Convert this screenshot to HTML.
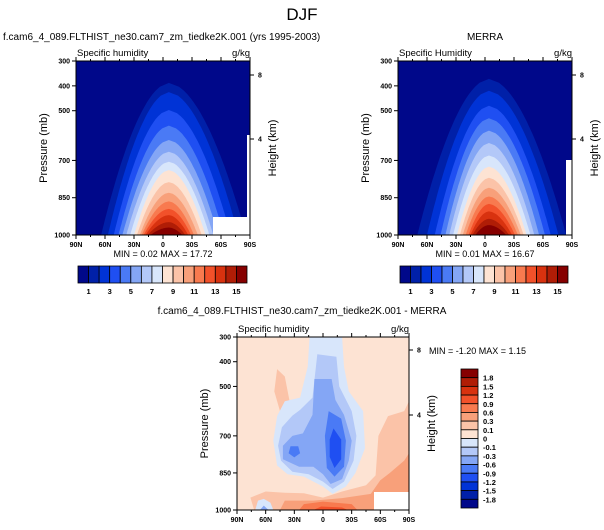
<!DOCTYPE html>
<html><head><meta charset="utf-8">
<style>
body{margin:0;background:#fff}
svg{display:block;font-family:"Liberation Sans",sans-serif}
</style></head>
<body>
<svg id="c" width="604" height="530" viewBox="0 0 604 530">
<text x="302" y="20" font-size="17" text-anchor="middle">DJF</text>
</svg>
<script>
// ---- data ----
const colors=["#00088a","#0020a8","#0033d6","#1f4ff2","#4a7af5","#84a6f5","#b3c8f8","#d8e6fb","#fde3d3","#fbc3a8","#f8a07a","#f87a4f","#f2512a","#d8320f","#b01d06","#860000"];
const qLabels=["1","3","5","7","9","11","13","15"];
const diffLabels=["1.8","1.5","1.2","0.9","0.6","0.3","0.1","0","-0.1","-0.3","-0.6","-0.9","-1.2","-1.5","-1.8"];
const pTicks=[300,400,500,700,850,1000];
const latTicks=[90,60,30,0,-30,-60,-90];
const latLabels=["90N","60N","30N","0","30S","60S","90S"];
// model contour levels 1..15: top pressure, lat at 1000 mb on N / S side
const modelTop=[388,425,497,560,618,665,705,739,787,830,865,895,920,948,970];
const modelN=[64,57,51,46,42,38,34,30,27,24,22,20,18,16,13];
const modelS=[-86,-78,-70,-63,-57,-52,-48,-44,-40,-36,-32,-29,-26,-23,-20];
const merraTop=[372,420,480,530,580,630,680,725,770,810,845,875,905,935,960];
const merraN=[70,60,52,46,41,37,33,29,26,23,20,17,15,13,10];
const merraS=[-84,-76,-68,-62,-56,-51,-47,-43,-40,-37,-34,-31,-28,-25,-22];
// difference contours: [lat,p] vertices
const diffOrange1=[[48,430],[40,460],[35,560],[45,600],[51,520]];
const diffOrange2=[[72,1000],[76,950],[60,925],[40,930],[20,932],[0,950],[-20,925],[-45,900],[-55,860],[-58,700],[-68,620],[-85,600],[-90,560],[-90,1000]];
const diffOrange3=[[45,1000],[40,962],[10,962],[-20,952],[-50,935],[-60,880],[-70,850],[-85,800],[-90,770],[-90,1000]];
const diffOrange4=[[25,1000],[20,976],[0,966],[-30,976],[-36,1000]];
const diffOrange5=[[10,1000],[2,986],[-20,990],[-26,1000]];
const diffBlue1=[[14,300],[-20,300],[-22,420],[-27,520],[-42,600],[-44,750],[-34,850],[-24,905],[-10,935],[0,905],[10,885],[20,865],[37,855],[48,820],[52,720],[48,620],[40,560],[24,545],[16,420]];
const diffBlue2=[[6,370],[-14,380],[-17,500],[-30,600],[-35,700],[-32,800],[-22,885],[-10,915],[0,885],[15,855],[32,845],[44,800],[47,740],[43,665],[32,618],[24,595],[11,545]];
const diffBlue3=[[9,470],[-9,470],[-13,555],[-22,615],[-30,720],[-27,800],[-20,875],[-8,895],[0,855],[10,825],[25,825],[42,795],[42,740],[32,700],[21,690],[11,615]];
const diffBlue4=[[-6,600],[-19,630],[-24,720],[-22,825],[-12,865],[-4,830],[-2,700]];
const diffBlue4b=[[34,742],[26,742],[24,770],[30,787],[36,770]];
const diffBlue5=[[-11,670],[-19,715],[-19,795],[-12,830],[-7,785],[-7,715]];
const diffBlueSW1=[[71,1000],[68,962],[62,955],[55,970],[52,1000]];
const diffBlueSW2=[[66,1000],[62,982],[57,1000]];

const NS="http://www.w3.org/2000/svg";
const svg=document.getElementById('c');
function el(tag,attrs,parent){const e=document.createElementNS(NS,tag);for(const k in attrs)e.setAttribute(k,attrs[k]);(parent||svg).appendChild(e);return e;}
function txt(x,y,s,size,anchor,parent,extra){const t=el('text',Object.assign({x:x,y:y,'font-size':size,'text-anchor':anchor||'start'},extra||{}),parent);t.textContent=s;return t;}

function panel(x0,y0,w,h,name){
  const g=el('g',{});
  
  
  const X=lat=>x0+(90-lat)/180*w;
  const Y=p=>y0+(p-300)/700*h;
  return {g,X,Y,x0,y0,w,h};
}
function dome(P,top,n,s,color,c){
  let pts=[];const N=40;const e=0.55;
  for(let i=0;i<=N;i++){const p=1000-(1000-top)*i/N;const t=(p-top)/(1000-top);const f=Math.pow(t,e);pts.push([c+(n-c)*f,p]);}
  for(let i=N;i>=0;i--){const p=1000-(1000-top)*i/N;const t=(p-top)/(1000-top);const f=Math.pow(t,e);pts.push([c+(s-c)*f,p]);}
  return poly(P,pts,color);
}
function poly(P,pts,color){
  const d=pts.map((q,i)=>(i?'L':'M')+P.X(q[0]).toFixed(1)+','+P.Y(q[1]).toFixed(1)).join('')+'Z';
  const e=el('path',{d:d,fill:color,'stroke-linejoin':'round'},P.g);
  
  
  return e;
}
function axes(P,heightTicks){
  const g=P.g;
  const f=el('rect',{x:P.x0,y:P.y0,width:P.w,height:P.h,fill:'none',stroke:'#000','stroke-width':1},g);
  
  
  pTicks.forEach(p=>{
    el('line',{x1:P.x0-4,x2:P.x0,y1:P.Y(p),y2:P.Y(p),stroke:'#000'},g);
    const t=txt(P.x0-6,P.Y(p)+2.5,String(p),7,'end',g,{'font-weight':'bold'});
    
    
  });
  for(let l=90;l>=-90;l-=15){el('line',{x1:P.X(l),x2:P.X(l),y1:P.y0+P.h,y2:P.y0+P.h+(l%30===0?4:2),stroke:'#000'},g);el('line',{x1:P.X(l),x2:P.X(l),y1:P.y0,y2:P.y0-(l%30===0?4:2),stroke:'#000'},g);}
  latTicks.forEach((l,i)=>{
    const t=txt(P.X(l),P.y0+P.h+12,latLabels[i],7,'middle',g,{'font-weight':'bold'});
    
    
  });
  heightTicks.forEach(hk=>{
    el('line',{x1:P.x0+P.w,x2:P.x0+P.w+4,y1:hk[1],y2:hk[1],stroke:'#000'},g);
    const t=txt(P.x0+P.w+8,hk[1]+2.5,hk[0],7,'start',g,{'font-weight':'bold'});
    
    
  });
  const yt=txt(0,0,'Pressure (mb)',11,'middle',g,{transform:`translate(${P.x0-29},${P.y0+P.h/2}) rotate(-90)`});
  
  
  const ht=txt(0,0,'Height (km)',11,'middle',g,{transform:`translate(${P.x0+P.w+26},${P.y0+P.h/2}) rotate(-90)`});
  
  
  const s=txt(P.x0+1,P.y0-5,'Specific humidity',9.5,'start',g);
  
  
  const u=txt(P.x0+P.w,P.y0-5,'g/kg',9.5,'end',g);
  
  
  return s;
}
function hbar(x,y,w,h){
  const g=el('g',{});
  
  
  const bw=w/colors.length;
  colors.forEach((c,i)=>{const r=el('rect',{x:x+i*bw,y:y,width:bw,height:h,fill:c,stroke:'#000','stroke-width':0.8},g);});
  qLabels.forEach((s,i)=>{const t=txt(x+(2*i+1)*bw,y+h+11,s,7.5,'middle',g,{'font-weight':'bold'});});
}
function qpanel(x0,tops,ns,ss,cen,name){
  const P=panel(x0,61,174,174,'panel-'+name);
  el('rect',{x:P.x0,y:P.y0,width:P.w,height:P.h,fill:colors[0]},P.g);
  tops.forEach((t,i)=>dome(P,t,ns[i],ss[i],colors[i+1],cen));
  return P;
}
// top-left
const A=qpanel(76,modelTop,modelN,modelS,-6,'model');
el('rect',{x:213,y:217,width:38,height:18,fill:'#fff'},A.g);
el('rect',{x:247,y:135,width:4,height:100,fill:'#fff'},A.g);
axes(A,[['8',75],['4',139]]);
const t1=txt(3,40,'f.cam6_4_089.FLTHIST_ne30.cam7_zm_tiedke2K.001 (yrs 1995-2003)',10,'start');

const m1=txt(163,257,'MIN =  0.02  MAX =  17.72',9,'middle');

hbar(78,266,169,17);
// top-right
const B=qpanel(398,merraTop,merraN,merraS,-4,'merra');
el('rect',{x:566,y:160,width:6,height:75,fill:'#fff'},B.g);
const sB=axes(B,[['8',75],['4',139]]);sB.textContent='Specific Humidity';
const t2=txt(485,40,'MERRA',10,'middle');

const m2=txt(485,257,'MIN =  0.01  MAX =  16.67',9,'middle');

hbar(400,266,168,17);
// bottom diff
const C=panel(237,337,172,173,'panel-difference');
el('rect',{x:C.x0,y:C.y0,width:C.w,height:C.h,fill:colors[8]},C.g);
poly(C,diffOrange1,colors[9]);poly(C,diffOrange2,colors[9]);poly(C,diffOrange3,colors[10]);poly(C,diffOrange4,colors[11]);poly(C,diffOrange5,colors[12]);
poly(C,diffBlue1,colors[7]);poly(C,diffBlue2,colors[6]);poly(C,diffBlue3,colors[5]);poly(C,diffBlue4,colors[4]);poly(C,diffBlue4b,colors[4]);poly(C,diffBlue5,colors[3]);
poly(C,diffBlueSW1,colors[7]);poly(C,diffBlueSW2,colors[5]);
el('rect',{x:374,y:492,width:35,height:18,fill:'#fff'},C.g);
axes(C,[['8',350],['4',415]]);
const t3=txt(302,314,'f.cam6_4_089.FLTHIST_ne30.cam7_zm_tiedke2K.001 - MERRA',10,'middle');

const m3=txt(429,354,'MIN =  -1.20  MAX =  1.15',9,'start');

// vertical colorbar
const vg=el('g',{});


const vh=139/colors.length;
colors.slice().reverse().forEach((c,i)=>{const r=el('rect',{x:461,y:369+i*vh,width:17,height:vh,fill:c,stroke:'#000','stroke-width':0.8},vg);});
diffLabels.forEach((s,i)=>{const t=txt(483,369+(i+1)*vh+3,s,7.5,'start',vg,{'font-weight':'bold'});});
</script>
</body></html>
